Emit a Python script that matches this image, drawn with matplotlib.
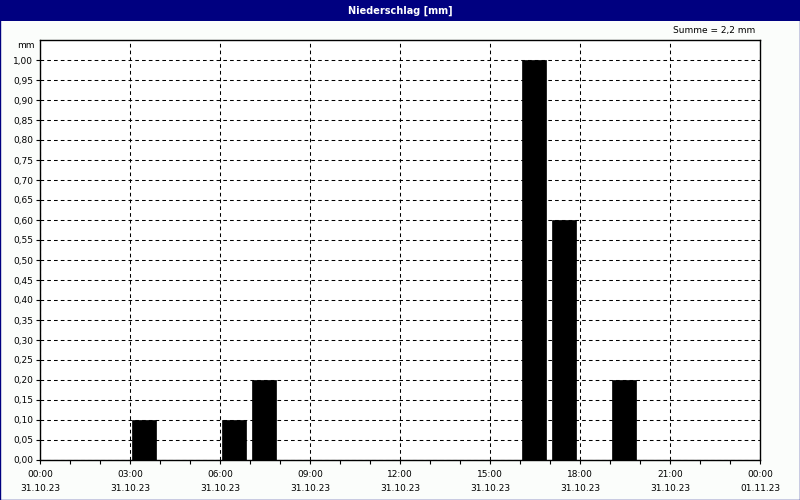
import matplotlib
matplotlib.use("Agg")
import matplotlib.pyplot as plt
from matplotlib.patches import Rectangle
from matplotlib.ticker import MultipleLocator, FixedLocator, FuncFormatter

# Data
hours = [3, 6, 7, 16, 17, 19]
precip = [0.10, 0.10, 0.20, 1.00, 0.60, 0.20]
ytick_values = [0.00, 0.05, 0.10, 0.15, 0.20, 0.25, 0.30, 0.35, 0.40, 0.45, 0.50,
                0.55, 0.60, 0.65, 0.70, 0.75, 0.80, 0.85, 0.90, 0.95, 1.00]
xtick_hours = [0, 3, 6, 9, 12, 15, 18, 21, 24]
xtick_labels = ["00:00\n31.10.23", "03:00\n31.10.23", "06:00\n31.10.23",
                "09:00\n31.10.23", "12:00\n31.10.23", "15:00\n31.10.23",
                "18:00\n31.10.23", "21:00\n31.10.23", "00:00\n01.11.23"]
title = "Niederschlag [mm]"
summe = "Summe = 2,2 mm"

W, H = 800, 500
bg = "#fbfdfb"
fig = plt.figure(figsize=(8, 5), dpi=100, facecolor=bg)
plt.rcParams["font.family"] = ["DejaVu Sans"]

# title bar
fig.patches.append(Rectangle((0, 1 - 21 / H), 1, 21 / H, transform=fig.transFigure,
                             facecolor="#000080", edgecolor="none", zorder=0))
fig.text(0.5, 1 - 10.5 / H, title, color="white", fontsize=7, fontweight="bold",
         ha="center", va="center")
# outer border
fig.patches.append(Rectangle((0.0006, 0.001), 0.9988, 0.998, transform=fig.transFigure,
                             facecolor="none", edgecolor="#000080", linewidth=1.0, zorder=5))

left, right, top, bottom = 40, 760, 40, 460
ax = fig.add_axes([left / W, 1 - bottom / H, (right - left) / W, (bottom - top) / H])
ax.set_facecolor("white")

ax.bar([h + 0.05 for h in hours], precip, width=0.8, align="edge", color="black",
       edgecolor="black", linewidth=0.5, zorder=3)

ax.set_xlim(0, 24)
ax.set_ylim(0, 1.05)
ax.set_xticks(xtick_hours)
ax.set_xticklabels(xtick_labels, fontsize=6.5, linespacing=1.75)
ax.xaxis.set_minor_locator(MultipleLocator(1))
ax.yaxis.set_major_locator(FixedLocator(ytick_values))
ax.yaxis.set_major_formatter(FuncFormatter(lambda v, p: f"{v:.2f}".replace(".", ",")))
ax.tick_params(axis="y", labelsize=6.5, length=3, width=0.8, pad=2)
ax.tick_params(axis="x", which="major", length=3, width=0.8, pad=4)
ax.tick_params(axis="x", which="minor", length=3, width=0.8)

ax.grid(True, which="major", color="black", linestyle=(0, (3.5, 3)), linewidth=0.75, zorder=1)
ax.set_axisbelow(True)
for s in ax.spines.values():
    s.set_linewidth(1.0)
    s.set_color("black")

fig.text(35 / W, 1 - 45 / H, "mm", fontsize=6.5, ha="right", va="center")
fig.text(755 / W, 1 - 31 / H, summe, fontsize=6.5, ha="right", va="center")

fig.savefig("out.png", dpi=100, facecolor=bg)
